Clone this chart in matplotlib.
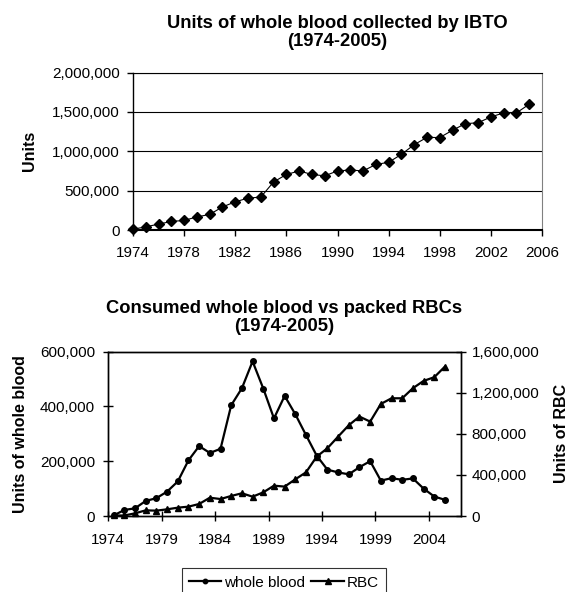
import matplotlib
matplotlib.use("Agg")
import matplotlib.pyplot as plt
from matplotlib.ticker import FuncFormatter

plt.rcParams['font.family'] = ['Liberation Sans', 'DejaVu Sans']

# data
years = list(range(1974, 2006))
collected = [10000, 40000, 75000, 108000, 122000, 166000, 198000, 293000,
             358000, 405000, 418000, 610000, 705000, 750000, 705000, 688000,
             750000, 762000, 750000, 832000, 860000, 960000, 1084000, 1176000,
             1174000, 1267000, 1350000, 1362000, 1436000, 1487000, 1487000, 1597000]
whole_blood = [2000, 22000, 28000, 55000, 65000, 89000, 126000, 203000,
               255000, 230000, 245000, 404000, 466000, 564000, 465000, 356000,
               438000, 371000, 295000, 220000, 169000, 159000, 152000, 178000,
               200000, 129000, 138000, 132000, 137000, 100000, 71000, 59000]
rbc = [5000, 5000, 26000, 55000, 52000, 65000, 81000, 91000,
       117000, 178000, 165000, 195000, 221000, 188000, 230000, 295000,
       286000, 357000, 425000, 578000, 659000, 772000, 883000, 967000,
       918000, 1090000, 1145000, 1145000, 1243000, 1314000, 1350000, 1454000]

top_xticks = list(range(1974, 2007, 4))
bottom_xlabels = ["1974", "1979", "1984", "1989", "1994", "1999", "2004"]

comma = FuncFormatter(lambda v, p: f"{int(v):,}")
W, H = 568, 592

fig = plt.figure(figsize=(W / 100, H / 100), dpi=100)

# ---- top chart ----
ax = fig.add_axes([133 / W, 1 - 230 / H, 409 / W, 157.5 / H])
ax.plot(years, collected, color="black", lw=0.8, marker="D", ms=4.6,
        mfc="black", mec="black", zorder=3, clip_on=False)
ax.set_xlim(1974, 2006)
ax.set_ylim(0, 2000000)
ax.set_xticks(top_xticks)
ax.set_yticks([0, 500000, 1000000, 1500000, 2000000])
ax.yaxis.set_major_formatter(comma)
ax.yaxis.grid(True, color="black", lw=0.8)
ax.set_axisbelow(True)
ax.spines["bottom"].set_linewidth(1.5)
ax.spines["left"].set_linewidth(1.0)
ax.spines["top"].set_linewidth(0.8)
ax.spines["right"].set_color("#808080")
ax.spines["right"].set_linewidth(0.8)
ax.tick_params(direction="out", length=4, width=1, labelsize=11)
ax.tick_params(axis="x", pad=7.8)
ax.tick_params(axis="y", pad=5.5)
ax.set_ylabel("Units", fontsize=11.5, fontweight="bold")
ax.yaxis.set_label_coords(-0.235, 0.5)
fig.text(337.5 / W, 1 - 32.5 / H, "Units of whole blood collected by IBTO\n(1974-2005)",
         ha="center", va="center", fontsize=13.2, fontweight="bold", linespacing=1.1)

# ---- bottom chart ----
ax1 = fig.add_axes([108.3 / W, 1 - 516 / H, 352.7 / W, 164.5 / H])
ax2 = ax1.twinx()
l1, = ax1.plot(years, whole_blood, color="black", lw=1.6, marker="o", ms=4,
               mfc="black", mec="black", clip_on=False, zorder=3)
l2, = ax2.plot(years, rbc, color="black", lw=1.6, marker="^", ms=5,
               mfc="black", mec="black", clip_on=False, zorder=3)
ax1.set_xlim(1973.5, 2006.5)
ax1.set_ylim(0, 600000)
ax2.set_ylim(0, 1600000)
ax1.set_xticks([1973.5 + 5 * i for i in range(7)])
ax1.set_xticklabels(bottom_xlabels)
ax1.set_yticks([0, 200000, 400000, 600000])
ax2.set_yticks([0, 400000, 800000, 1200000, 1600000])
ax1.yaxis.set_major_formatter(comma)
ax2.yaxis.set_major_formatter(comma)
for a in (ax1, ax2):
    for s in a.spines.values():
        s.set_color("black")
        s.set_linewidth(1.0)
    a.tick_params(direction="inout", length=7, width=1, labelsize=11)
ax1.tick_params(axis="x", pad=9)
ax1.tick_params(axis="y", pad=6)
ax2.tick_params(axis="y", pad=4.2)
ax1.set_ylabel("Units of whole blood", fontsize=11.5, fontweight="bold")
ax1.yaxis.set_label_coords(-0.229, 0.5)
ax2.set_ylabel("Units of RBC", fontsize=11.5, fontweight="bold")
ax2.yaxis.set_label_coords(1.264, 0.5)
fig.text(284.5 / W, 1 - 317.5 / H, "Consumed whole blood vs packed RBCs\n(1974-2005)",
         ha="center", va="center", fontsize=13.2, fontweight="bold", linespacing=1.1)

leg = fig.legend([l1, l2], ["whole blood", "RBC"], loc="upper center",
                 bbox_to_anchor=(284 / W, 1 - 568 / H), ncol=2, fontsize=11,
                 frameon=True, fancybox=False, edgecolor="black",
                 handlelength=2.1, handletextpad=0.2, columnspacing=0.4,
                 borderpad=0.5, borderaxespad=0, markerscale=0.8)
leg.get_frame().set_linewidth(0.8)

fig.savefig("out.png", dpi=100)
